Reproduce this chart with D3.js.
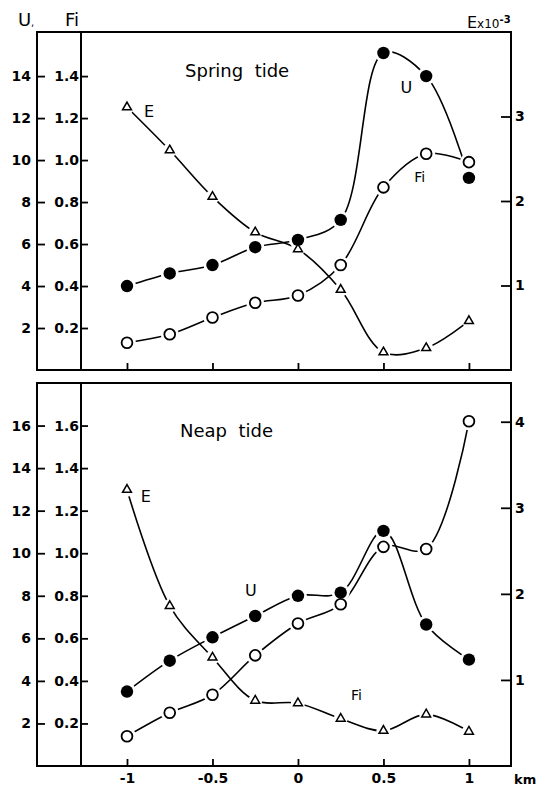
<!DOCTYPE html>
<html>
<head>
<meta charset="utf-8">
<script src="https://cdn.jsdelivr.net/npm/d3@7"></script>
<style>
  body { margin: 0; background: #fff; }
  text { font-family: "DejaVu Sans", sans-serif; fill: #000; }
</style>
</head>
<body>
<div class="graph"></div>
<script>
// distance along the section, km
const km = [-1, -0.75, -0.5, -0.25, 0, 0.25, 0.5, 0.75, 1];

// spring tide
const springU  = [4.0, 4.6, 5.0, 5.85, 6.2, 7.15, 15.1, 14.0, 9.15];
const springFi = [0.13, 0.17, 0.25, 0.32, 0.355, 0.50, 0.87, 1.03, 0.99];
const springE  = [3.11, 2.6, 2.05, 1.63, 1.43, 0.95, 0.21, 0.26, 0.58];

// neap tide
const neapU  = [3.5, 4.95, 6.05, 7.05, 8.0, 8.15, 11.05, 6.65, 5.0];
const neapFi = [0.14, 0.25, 0.335, 0.52, 0.67, 0.76, 1.03, 1.02, 1.62];
const neapE  = [3.21, 1.86, 1.26, 0.76, 0.73, 0.55, 0.41, 0.60, 0.40];

// tick values
const kmTicks = [-1, -0.5, 0, 0.5, 1];
const kmTickLabels = ["-1", "-0.5", "0", "0.5", "1"];
const springUTicks = [2, 4, 6, 8, 10, 12, 14];
const neapUTicks = [2, 4, 6, 8, 10, 12, 14, 16];
const springETicks = [1, 2, 3];
const neapETicks = [1, 2, 3, 4];

let svg = d3.select('.graph')
    .append('svg')
    .attr('width', 539)
    .attr('height', 790);

let x = d3.scaleLinear().domain([-1.269, 1.246]).range([81, 511]);

let panels = [
    {
        top: 32, bottom: 370, uMax: 16.1, eMax: 4.0,
        U: springU, Fi: springFi, E: springE, uTicks: springUTicks, eTicks: springETicks,
        labels: [
            {t: "Spring  tide", k: -0.66, u: 13.95, size: 18},
            {t: "E", k: -0.9, u: 12.05, size: 16},
            {t: "U", k: 0.6, u: 13.2, size: 16},
            {t: "Fi", k: 0.68, u: 8.95, size: 14}
        ],
        showX: false
    },
    {
        top: 383, bottom: 766, uMax: 18.0, eMax: 4.45,
        U: neapU, Fi: neapFi, E: neapE, uTicks: neapUTicks, eTicks: neapETicks,
        labels: [
            {t: "Neap  tide", k: -0.69, u: 15.45, size: 18},
            {t: "E", k: -0.92, u: 12.4, size: 16},
            {t: "U", k: -0.31, u: 8.0, size: 16},
            {t: "Fi", k: 0.31, u: 3.1, size: 14}
        ],
        showX: true
    }
];

panels.forEach(function (p) {
    let yU = d3.scaleLinear().domain([0, p.uMax]).range([p.bottom, p.top]);
    let yFi = d3.scaleLinear().domain([0, p.uMax / 10]).range([p.bottom, p.top]);
    let yE = d3.scaleLinear().domain([0, p.eMax]).range([p.bottom, p.top]);

    let g = svg.append('g');

    // frame
    g.append('rect')
        .attr('x', 37).attr('y', p.top)
        .attr('width', 511 - 37).attr('height', p.bottom - p.top)
        .attr('fill', 'none').attr('stroke', '#000').attr('stroke-width', 2);
    g.append('line')
        .attr('x1', 81).attr('x2', 81).attr('y1', p.top).attr('y2', p.bottom)
        .attr('stroke', '#000').attr('stroke-width', 2);

    // axes
    let axU = g.append('g').attr('transform', 'translate(37,0)')
        .call(d3.axisLeft(yU).tickValues(p.uTicks).tickSizeInner(-8).tickSizeOuter(0).tickPadding(6));
    let axFi = g.append('g').attr('transform', 'translate(81,0)')
        .call(d3.axisLeft(yFi).tickValues(p.uTicks.map(d => d / 10)).tickFormat(d3.format('.1f'))
            .tickSizeInner(-7).tickSizeOuter(0).tickPadding(2));
    let axE = g.append('g').attr('transform', 'translate(511,0)')
        .call(d3.axisRight(yE).tickValues(p.eTicks).tickFormat(d3.format('d'))
            .tickSizeInner(-10).tickSizeOuter(0).tickPadding(4));
    let axX = g.append('g').attr('transform', 'translate(0,' + p.bottom + ')')
        .call(d3.axisBottom(x).tickValues(kmTicks).tickFormat((d, i) => p.showX ? kmTickLabels[i] : '')
            .tickSizeInner(-7).tickSizeOuter(0).tickPadding(7));

    [axU, axFi, axE, axX].forEach(function (a) {
        a.select('.domain').remove();
        a.selectAll('line').attr('stroke-width', 1.8);
        a.selectAll('text').style('font-size', '14px').style('font-weight', 'bold')
            .style('font-family', '"DejaVu Sans", sans-serif');
    });

    // curves
    let series = [
        {vals: p.U, y: yU, mark: 'dot'},
        {vals: p.Fi, y: yFi, mark: 'ring'},
        {vals: p.E, y: yE, mark: 'tri'}
    ];
    let line = d3.line().curve(d3.curveCatmullRom.alpha(0.5));

    series.forEach(function (s) {
        g.append('path')
            .attr('d', line(km.map((k, i) => [x(k), s.y(s.vals[i])])))
            .attr('fill', 'none')
            .attr('stroke', '#000')
            .attr('stroke-width', 1.6);
    });

    // white gaps round the markers
    series.forEach(function (s) {
        km.forEach(function (k, i) {
            g.append('circle')
                .attr('cx', x(k)).attr('cy', s.y(s.vals[i]))
                .attr('r', s.mark === 'tri' ? 7 : 9)
                .attr('fill', '#fff');
        });
    });

    series.forEach(function (s) {
        km.forEach(function (k, i) {
            let cx = x(k), cy = s.y(s.vals[i]);
            if (s.mark === 'dot') {
                g.append('circle').attr('cx', cx).attr('cy', cy).attr('r', 6.2).attr('fill', '#000');
            } else if (s.mark === 'ring') {
                g.append('circle').attr('cx', cx).attr('cy', cy).attr('r', 5.4)
                    .attr('fill', '#fff').attr('stroke', '#000').attr('stroke-width', 1.8);
            } else {
                g.append('path')
                    .attr('d', d3.symbol().type(d3.symbolTriangle).size(34)())
                    .attr('transform', 'translate(' + cx + ',' + cy + ')')
                    .attr('fill', '#fff').attr('stroke', '#000').attr('stroke-width', 1.5);
            }
        });
    });

    // in-plot labels
    p.labels.forEach(function (l) {
        g.append('text')
            .attr('x', x(l.k)).attr('y', yU(l.u))
            .style('font-size', l.size + 'px')
            .style('white-space', 'pre')
            .text(l.t);
    });
});

// axis titles
svg.append('text').attr('x', 18).attr('y', 26).style('font-size', '18px').text('U');
svg.append('text').attr('x', 31).attr('y', 26).style('font-size', '10px').text(',');
svg.append('text').attr('x', 65).attr('y', 26).style('font-size', '18px').text('Fi');
let ex = svg.append('text').attr('x', 467).attr('y', 28).style('font-size', '16px');
ex.append('tspan').text('E');
ex.append('tspan').style('font-size', '12px').text('x10');
ex.append('tspan').attr('dy', -5).style('font-size', '10px').style('font-weight', 'bold').text('-3');
svg.append('text').attr('x', 514).attr('y', 784).style('font-size', '13px').style('font-weight', 'bold').text('km');
</script>
</body>
</html>
